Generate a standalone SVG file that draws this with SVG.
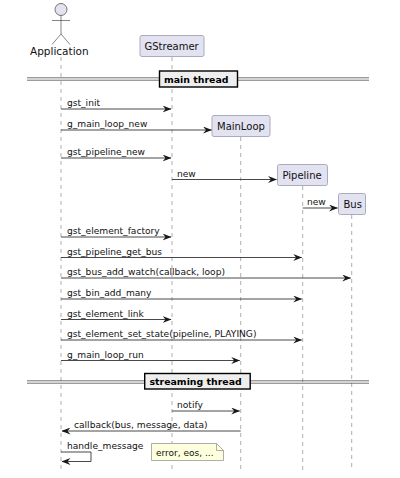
<svg xmlns="http://www.w3.org/2000/svg" width="400" height="478" viewBox="0 0 400 478">
<style>
text{font-family:"DejaVu Sans",sans-serif;font-size:9.1px;fill:#111}
.life{stroke:#777;stroke-width:.6;stroke-dasharray:4 4;fill:none}
.box{fill:#E2E2F0;stroke:#ABABBF;stroke-width:1}
.boxt{font-size:10px}
.msg{stroke:#333;stroke-width:.9;fill:none}
.sep{stroke:#333;stroke-width:.7;fill:none}
.div{fill:#EEEEEE;stroke:#000;stroke-width:1.4}
.head{fill:#181818}
.divt{font-weight:bold;font-size:9.400px;fill:#000}
.note{font-size:9px}
</style>
<defs>
<marker id="a" viewBox="0 0 9 7" refX="8.500" refY="3.500" markerWidth="9" markerHeight="7" markerUnits="userSpaceOnUse" orient="auto"><path d="M0 0L9 3.500L0 7L3 3.500Z" class="head"/></marker>
</defs>
<g id="lifelines">
<line class="life" x1="61" y1="57" x2="61" y2="471"/>
<line class="life" x1="172" y1="57" x2="172" y2="471"/>
<line class="life" x1="240.700" y1="137" x2="240.700" y2="471"/>
<line class="life" x1="302.700" y1="186" x2="302.700" y2="471"/>
<line class="life" x1="351.700" y1="215" x2="351.700" y2="471"/>
</g>
<g id="Application">
<circle cx="61" cy="9.500" r="6" fill="#E2E2F0" stroke="#555" stroke-width=".8"/>
<path d="M61 15.500V34M52 20.500H70M61 34L52 44.500M61 34L70 44.500" fill="none" stroke="#333" stroke-width=".6"/>
<text x="30" y="55" style="font-size:10.500px">Application</text>
</g>
<g id="GStreamer"><rect class="box" x="140" y="35.500" width="64" height="21" rx="2"/><text class="boxt" x="144.500" y="50">GStreamer</text></g>
<g id="MainLoop"><rect class="box" x="212" y="115.500" width="58" height="21" rx="2"/><text class="boxt" x="217" y="130">MainLoop</text></g>
<g id="Pipeline"><rect class="box" x="277.500" y="164.500" width="50" height="21" rx="2"/><text class="boxt" x="282.500" y="179">Pipeline</text></g>
<g id="Bus"><rect class="box" x="338.500" y="193.500" width="27" height="21" rx="2"/><text class="boxt" x="343.500" y="208">Bus</text></g>
<g id="dividers">
<path class="sep" d="M27 77.800H369M27 80.200H369M27 380.800H369M27 383.200H369"/>
<rect class="div" x="159.500" y="71" width="78" height="16"/>
<text class="divt" x="164" y="83">main thread</text>
<rect class="div" x="144.700" y="373.500" width="105.500" height="15.500"/>
<text class="divt" x="149.500" y="385">streaming thread</text>
</g>
<g id="connectors">
<line class="msg" marker-end="url(#a)" x1="61" y1="109" x2="171" y2="109"/>
<line class="msg" marker-end="url(#a)" x1="61" y1="130" x2="211.500" y2="130"/>
<line class="msg" marker-end="url(#a)" x1="61" y1="158" x2="171" y2="158"/>
<line class="msg" marker-end="url(#a)" x1="172" y1="179.500" x2="276.500" y2="179.500"/>
<line class="msg" marker-end="url(#a)" x1="302.700" y1="208" x2="337.500" y2="208"/>
<line class="msg" marker-end="url(#a)" x1="61" y1="237" x2="171" y2="237"/>
<line class="msg" marker-end="url(#a)" x1="61" y1="257.500" x2="301.700" y2="257.500"/>
<line class="msg" marker-end="url(#a)" x1="61" y1="278" x2="350.700" y2="278"/>
<line class="msg" marker-end="url(#a)" x1="61" y1="299" x2="301.700" y2="299"/>
<line class="msg" marker-end="url(#a)" x1="61" y1="319.500" x2="171" y2="319.500"/>
<line class="msg" marker-end="url(#a)" x1="61" y1="340" x2="301.700" y2="340"/>
<line class="msg" marker-end="url(#a)" x1="61" y1="360.500" x2="239.700" y2="360.500"/>
<line class="msg" marker-end="url(#a)" x1="172" y1="411" x2="239.700" y2="411"/>
<line class="msg" marker-end="url(#a)" x1="240.700" y1="431" x2="62" y2="431"/>
<path class="msg" marker-end="url(#a)" d="M61 452H91V461.500H62"/>
</g>
<g id="labels">
<text x="67" y="106">gst_init</text>
<text x="67" y="127">g_main_loop_new</text>
<text x="67" y="155">gst_pipeline_new</text>
<text x="177" y="176.500">new</text>
<text x="307" y="205">new</text>
<text x="67" y="234">gst_element_factory</text>
<text x="67" y="254.500">gst_pipeline_get_bus</text>
<text x="67" y="275">gst_bus_add_watch(callback, loop)</text>
<text x="67" y="296">gst_bin_add_many</text>
<text x="67" y="316.500">gst_element_link</text>
<text x="67" y="337">gst_element_set_state(pipeline, PLAYING)</text>
<text x="67" y="357.500">g_main_loop_run</text>
<text x="177" y="408">notify</text>
<text x="74" y="428">callback(bus, message, data)</text>
<text x="67" y="449">handle_message</text>
</g>
<g id="note">
<path d="M151.500 443.500H216.500L223.500 450.500V460.500H151.500Z" fill="#FEFFDD" stroke="#999" stroke-width=".8"/>
<path d="M216.500 443.500V450.500H223.500" fill="none" stroke="#999" stroke-width=".8"/>
<text class="note" x="156" y="455.500">error, eos, ...</text>
</g>
</svg>
